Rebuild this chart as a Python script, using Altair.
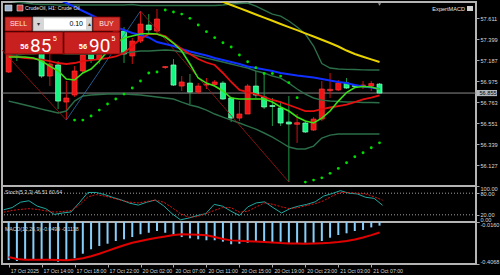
import altair as alt
import pandas as pd

# ------------------------------------------------------------------ data
bar_idx = list(range(46))
time_label_bars = [0, 4, 8, 12, 16, 20, 24, 28, 32, 36, 40, 44]
time_labels = ["17 Oct 2025", "17 Oct 14:00", "17 Oct 18:00", "17 Oct 22:00",
               "20 Oct 02:00", "20 Oct 07:00", "20 Oct 11:00", "20 Oct 15:00",
               "20 Oct 19:00", "20 Oct 23:00", "21 Oct 03:00", "21 Oct 07:00"]
price_ticks = [57.611, 57.399, 57.187, 56.975, 56.763, 56.551, 56.339, 56.127]
bid_price = 56.855

opens = [57.068, 57.331, 57.280, 57.422, 57.280, 57.027, 57.139, 56.764, 56.835, 57.078,
         57.280, 57.199, 57.321, 57.381, 57.482, 57.230, 57.381, 57.543, 57.482, 57.113,
         57.139, 56.926, 56.956, 56.865, 56.936, 56.941, 56.956, 56.805, 56.602, 56.643,
         56.926, 56.815, 56.729, 56.704, 56.562, 56.539, 56.552, 56.481, 56.592, 56.879,
         56.886, 56.956, 56.931, 56.931, 56.926, 56.946]
highs = [57.381, 57.381, 57.482, 57.462, 57.331, 57.260, 57.179, 56.977, 57.128, 57.300,
         57.361, 57.402, 57.462, 57.523, 57.523, 57.412, 57.685, 57.654, 57.705, 57.128,
         57.199, 57.027, 57.048, 56.956, 57.007, 56.987, 56.977, 56.815, 56.774, 56.946,
         57.078, 57.058, 56.805, 56.774, 56.825, 56.643, 56.572, 56.613, 56.977, 57.058,
         56.987, 57.007, 56.946, 56.977, 56.977, 56.956]
lows = [57.058, 57.179, 57.260, 57.280, 57.007, 56.926, 56.693, 56.582, 56.815, 57.058,
        57.159, 57.149, 57.280, 57.341, 57.159, 57.149, 57.361, 57.452, 57.462, 57.098,
        56.926, 56.876, 56.744, 56.845, 56.896, 56.926, 56.785, 56.562, 56.572, 56.643,
        56.805, 56.693, 56.522, 56.522, 55.955, 56.350, 56.451, 56.471, 56.572, 56.805,
        56.876, 56.896, 56.906, 56.896, 56.876, 56.845]
closes = [57.300, 57.260, 57.432, 57.300, 57.027, 57.149, 56.774, 56.805, 57.078, 57.240,
          57.199, 57.331, 57.402, 57.482, 57.250, 57.381, 57.553, 57.493, 57.604, 57.123,
          56.936, 56.967, 56.865, 56.926, 56.946, 56.967, 56.795, 56.602, 56.643, 56.926,
          56.835, 56.714, 56.719, 56.552, 56.542, 56.555, 56.461, 56.592, 56.896, 56.893,
          56.956, 56.906, 56.921, 56.936, 56.951, 56.855]

ma_yellow = [None] * 24 + [57.842, 57.810, 57.778, 57.746, 57.714, 57.682, 57.650, 57.618,
                           57.586, 57.554, 57.522, 57.491, 57.458, 57.427, 57.394, 57.361,
                           57.326, 57.285, 57.250, 57.223, 57.196, 57.169]
ma_blue = [None] * 5 + [57.847, 57.806, 57.766, 57.726, 57.685, 57.645, 57.604, 57.564,
                        57.523, 57.493, 57.463, 57.442, 57.417, 57.371, 57.351, 57.331,
                        57.301, 57.275, 57.255, 57.235, 57.210, 57.189, 57.169, 57.149,
                        57.124, 57.108, 57.093, 57.078, 57.058, 57.045, 57.033, 57.023,
                        57.012, 56.997, 56.982, 56.967, 56.957, 56.937, 56.921, 56.911,
                        56.896]
ma_red = [57.230, 57.220, 57.209, 57.204, 57.194, 57.179, 57.159, 57.149, 57.159, 57.179,
          57.189, 57.199, 57.209, 57.225, 57.260, 57.331, 57.402, 57.452, 57.452, 57.432,
          57.361, 57.300, 57.250, 57.199, 57.164, 57.139, 57.058, 56.967, 56.886, 56.865,
          56.845, 56.815, 56.785, 56.764, 56.734, 56.704, 56.673, 56.673, 56.693, 56.709,
          56.724, 56.739, 56.764, 56.790, 56.810, 56.832]
ma_lime = [57.220, 57.220, 57.220, 57.209, 57.179, 57.128, 57.078, 56.997, 56.987, 57.058,
           57.098, 57.179, 57.280, 57.361, 57.412, 57.432, 57.452, 57.457, 57.452, 57.422,
           57.361, 57.280, 57.149, 57.007, 56.956, 56.926, 56.876, 56.805, 56.795, 56.795,
           56.795, 56.795, 56.764, 56.714, 56.673, 56.613, 56.572, 56.552, 56.602, 56.673,
           56.774, 56.860, 56.911, 56.921, 56.916, 56.893]
bb_upper = [57.786, 57.776, 57.766, 57.756, 57.751, 57.751, 57.746, 57.746, 57.746, 57.746,
            57.746, 57.746, 57.746, 57.746, 57.746, 57.751, 57.740, 57.740, 57.740, 57.740,
            57.740, 57.740, 57.740, 57.740, 57.740, 57.740, 57.746, 57.756, 57.761, 57.766,
            57.735, 57.695, 57.654, 57.634, 57.584, 57.523, 57.452, 57.331, 57.154, 57.108,
            57.098, 57.095, 57.093, 57.090, 57.088, 57.088]
bb_middle = [57.240, 57.240, 57.250, 57.250, 57.260, 57.260, 57.260, 57.250, 57.250, 57.250,
             57.250, 57.250, 57.255, 57.260, 57.260, 57.270, 57.280, 57.280, 57.285, 57.290,
             57.285, 57.270, 57.250, 57.230, 57.209, 57.189, 57.169, 57.149, 57.128, 57.108,
             57.078, 57.058, 57.027, 57.007, 56.956, 56.896, 56.845, 56.805, 56.784, 56.774,
             56.769, 56.764, 56.764, 56.759, 56.759, 56.757]
bb_lower = [56.774, 56.754, 56.734, 56.714, 56.693, 56.673, 56.653, 56.673, 56.774, 56.825,
            56.835, 56.840, 56.845, 56.845, 56.845, 56.840, 56.835, 56.825, 56.815, 56.805,
            56.795, 56.764, 56.734, 56.714, 56.683, 56.643, 56.612, 56.582, 56.552, 56.521,
            56.491, 56.451, 56.410, 56.360, 56.309, 56.289, 56.289, 56.319, 56.400, 56.430,
            56.441, 56.441, 56.441, 56.441, 56.441, 56.441]
sar = [None] * 8 + [56.582, 56.582, 56.623, 56.683, 56.744, 56.795, 56.845, 56.906, 56.977,
                    57.058, 57.068, 57.695, 57.675, 57.654, 57.611, 57.543, 57.476, 57.415,
                    57.364, 57.321, 57.240, 57.172, 57.111, 57.053, 57.053, 57.027, 56.960,
                    56.808, 55.955, 55.975, 55.998, 56.043, 56.093, 56.150, 56.211, 56.251,
                    56.302, 56.352]
zz_bars = [-1, 7, 16, 34]
zz_prices = [57.307, 56.582, 57.685, 55.955]

stoch_main = [34, 40, 55, 59, 44, 37, 21, 25, 28, 54, 82, 82, 76, 68, 61, 52, 47, 55, 61, 45,
              23, 6, 11, 18, 23, 49, 44, 30, 18, 42, 53, 56, 40, 25, 37, 44, 49, 56, 72, 79,
              87, 80, 78, 68.6, 65.7, 46.51]
stoch_signal = [27.5, 32, 35, 37, 35, 31, 27.5, 29, 32, 47, 70, 76, 72, 66, 60, 55, 53, 57, 61,
                55, 40, 23, 13, 15, 23, 32, 40, 40, 27, 30, 42, 53, 49, 42, 37, 40, 46, 51, 59,
                72, 82, 82, 80, 78, 70, 60.64]
stoch_levels = [80, 20]
macd_hist = [-0.370, -0.379, -0.363, -0.363, -0.363, -0.372, -0.385, -0.372, -0.354, -0.311,
             -0.270, -0.239, -0.218, -0.193, -0.177, -0.156, -0.130, -0.116, -0.100, -0.116,
             -0.134, -0.156, -0.168, -0.177, -0.186, -0.186, -0.199, -0.223, -0.218, -0.209,
             -0.202, -0.209, -0.202, -0.199, -0.209, -0.218, -0.209, -0.209, -0.193, -0.162,
             -0.137, -0.121, -0.100, -0.090, -0.066, -0.0499]
macd_signal = [-0.342, -0.360, -0.367, -0.367, -0.367, -0.368, -0.370, -0.372, -0.365, -0.354,
               -0.335, -0.311, -0.285, -0.258, -0.232, -0.209, -0.192, -0.177, -0.162, -0.150,
               -0.138, -0.131, -0.132, -0.135, -0.140, -0.155, -0.175, -0.187, -0.191, -0.194,
               -0.198, -0.202, -0.207, -0.212, -0.215, -0.217, -0.218, -0.216, -0.213, -0.209,
               -0.202, -0.193, -0.178, -0.160, -0.138, -0.1138]

# ------------------------------------------------------------------ tables
df = pd.DataFrame({
    "bar": bar_idx, "open": opens, "high": highs, "low": lows, "close": closes,
    "yellow": ma_yellow, "blue": ma_blue, "red": ma_red, "lime": ma_lime,
    "bbu": bb_upper, "bbm": bb_middle, "bbl": bb_lower, "sar": sar,
    "k": stoch_main, "d": stoch_signal, "hist": macd_hist, "sig": macd_signal,
})
df["dir"] = ["up" if c >= o else "down" for o, c in zip(opens, closes)]
one = pd.DataFrame({"z": [0]})
bid_df = pd.DataFrame({"p": [bid_price], "hi": [bid_price + 0.031], "lo": [bid_price - 0.031],
                       "t": [f"{bid_price:.3f}"]})
lvl_df = pd.DataFrame({"lvl": stoch_levels})

W = 474
FONT = "Liberation Sans, Arial, sans-serif"
NARROW = "Liberation Sans Narrow, Roboto, sans-serif"
LBL = "#D8D8D8"

xs = alt.Scale(domain=[-0.2, 56.1], nice=False, zero=False)
XN = alt.X("bar:Q", scale=xs, axis=None)

price_scale = alt.Scale(domain=[55.915, 57.776], nice=False, zero=False)
main_axis = alt.Axis(orient="right", values=price_ticks, format=".3f", title=None, grid=False,
                     domain=False, tickSize=3, tickColor="#A8A8A8", labelColor=LBL,
                     labelFontSize=5.6, labelFont=FONT, labelPadding=1)


def PY(f):
    return alt.Y(f, type="quantitative", scale=price_scale, axis=main_axis)


base = alt.Chart(df)

wick_up = base.transform_filter(alt.datum.dir == "up").mark_rule(
    color="#D01010", strokeWidth=1, clip=True).encode(x=XN, y=PY("low"), y2="high")
wick_dn = base.transform_filter(alt.datum.dir == "down").mark_rule(
    color="#1E9A48", strokeWidth=1, clip=True).encode(x=XN, y=PY("low"), y2="high")
body_up = base.transform_filter(alt.datum.dir == "up").mark_bar(
    size=5, fill="#F01414", stroke="#FF3A3A", strokeWidth=0.7, clip=True).encode(
    x=XN, y=PY("open"), y2="close")
body_dn = base.transform_filter(alt.datum.dir == "down").mark_bar(
    size=5, fill="#14F582", stroke="#8CFFC2", strokeWidth=0.7, clip=True).encode(
    x=XN, y=PY("open"), y2="close")


def pline(field, color, width, dash=None):
    kw = dict(color=color, strokeWidth=width, clip=True)
    if dash:
        kw["strokeDash"] = dash
    return base.mark_line(**kw).encode(x=XN, y=PY(field))


bid_line = alt.Chart(one).mark_rule(color="#8A8A8A", strokeWidth=1).encode(
    y=alt.Y(datum=bid_price, type="quantitative", scale=price_scale, axis=main_axis))

zz_layers = []
zz_colors = ["#A01818", "#2F6FB0", "#A01818"]
for k in range(len(zz_bars) - 1):
    seg = pd.DataFrame({"bar": zz_bars[k:k + 2], "p": zz_prices[k:k + 2]})
    zz_layers.append(alt.Chart(seg).mark_line(color=zz_colors[k], strokeWidth=0.8, clip=True)
                     .encode(x=XN, y=PY("p")))

sar_pts = base.mark_circle(size=8, color="#00DD00", opacity=1, clip=True).encode(
    x=XN, y=PY("sar"))


def box(x0, x1, y0, y1, fill, stroke=None, sw=0.8):
    kw = dict(fill=fill)
    if stroke:
        kw.update(stroke=stroke, strokeWidth=sw)
    return alt.Chart(one).mark_rect(**kw).encode(
        x=alt.value(x0), x2=alt.value(x1), y=alt.value(y0), y2=alt.value(y1))


def txt(x, y, s, size, color="#FFFFFF", align="center", weight="normal", font=FONT,
        baseline="middle"):
    return alt.Chart(one).mark_text(text=s, fontSize=size, color=color, align=align,
                                    fontWeight=weight, font=font, baseline=baseline).encode(
        x=alt.value(x), y=alt.value(y))


ui = [
    box(3, 30, 15, 29, "#D0302A", "#8A0000"),
    box(31, 90, 15, 29, "#D6D6D6", "#909090"),
    box(42, 84, 16.5, 27.5, "#FFFFFF"),
    box(91, 118, 15, 29, "#D0302A", "#8A0000"),
    box(3, 61, 30, 52, "#C8201E", "#7A0000"),
    box(62, 118, 30, 52, "#C8201E", "#7A0000"),
    txt(16.5, 22, "SELL", 7, "#FFE4E4"),
    txt(104.5, 22, "BUY", 7, "#FFE4E4"),
    txt(36.5, 22, "\u25BE", 6, "#303030"),
    txt(87, 22, "\u25B4", 6, "#303030"),
    txt(81, 22, "0.10", 7, "#000000", align="right"),
    txt(22.5, 45, "56", 7.5, weight="bold"),
    txt(28, 49.5, "85", 19, align="left", font=NARROW, baseline="alphabetic"),
    txt(53, 37, "5", 7),
    txt(81, 45, "56", 7.5, weight="bold"),
    txt(87, 49.5, "90", 19, align="left", font=NARROW, baseline="alphabetic"),
    txt(111.5, 37, "5", 7),
    # header
    box(3, 10, 3, 9, "#9FB4CF", "#E0E0E0", 0.6),
    box(15, 21, 3, 9, "#D84040", "#E0E0E0", 0.6),
    txt(23, 6, "CrudeOil, H1:  Crude Oil", 5.2, "#E6E6E6", align="left"),
    txt(463, 6.5, "ExpertMACD", 5.6, "#E6E6E6", align="right"),
    box(465, 471, 4, 9, "#D0D0D0"),
]

shift_mark = alt.Chart(one).mark_point(shape="triangle-down", filled=True, size=10,
                                       color="#9A9A9A", opacity=1).encode(
    x=alt.X(datum=45, type="quantitative", scale=xs, axis=None), y=alt.value(2.5))

bid_box = alt.Chart(bid_df).mark_rect(fill="#B4B9BE").encode(
    x=alt.value(475), x2=alt.value(495), y=PY("hi"), y2="lo")
bid_txt = alt.Chart(bid_df).mark_text(align="left", fontSize=5.6, font=FONT,
                                      color="#000000").encode(
    x=alt.value(477.5), y=PY("p"), text="t:N")

main = alt.layer(
    bid_line, wick_up, wick_dn, body_up, body_dn,
    pline("bbu", "#2B6E48", 1.4), pline("bbm", "#2B6E48", 1.4), pline("bbl", "#2B6E48", 1.4),
    *zz_layers,
    pline("yellow", "#E8D200", 2), pline("blue", "#1030FF", 2),
    pline("red", "#E41010", 1.8), pline("lime", "#3CE018", 1.6),
    sar_pts, *ui, shift_mark, bid_box, bid_txt,
).properties(width=W, height=184)

# ------------------------------------------------------------------ stochastic
stoch_scale = alt.Scale(domain=[0, 100], nice=False, zero=False)
stoch_axis = alt.Axis(orient="right", values=[100, 80, 20, 0], format=".2f", title=None,
                      grid=False, domain=False, tickSize=3, tickColor="#A8A8A8",
                      labelColor=LBL, labelFontSize=5.6, labelFont=FONT, labelPadding=1,
                      labelFlush=True, labelOverlap=False)


def SY(f):
    return alt.Y(f, type="quantitative", scale=stoch_scale, axis=stoch_axis)


stoch = alt.layer(
    alt.Chart(lvl_df).mark_rule(color="#C8C8C8", strokeWidth=0.8, strokeDash=[1, 2]).encode(
        y=SY("lvl")),
    base.mark_line(color="#20A8A0", strokeWidth=1, clip=True).encode(x=XN, y=SY("k")),
    base.mark_line(color="#E01010", strokeWidth=1, strokeDash=[2, 1.5], clip=True).encode(
        x=XN, y=SY("d")),
    txt(3, 6, "Stoch(5,3,3) 46.51 60.64", 5.2, "#D8D8D8", align="left"),
).properties(width=W, height=36)

# ------------------------------------------------------------------ MACD
macd_scale = alt.Scale(domain=[-0.4068, -0.016], nice=False, zero=False)
macd_axis = alt.Axis(orient="right", values=[-0.016, -0.4068], title=None, grid=False,
                     domain=False, tickSize=3, tickColor="#A8A8A8", labelColor=LBL,
                     labelFontSize=5.6, labelFont=FONT, labelPadding=1, labelFlush=True,
                     labelExpr="(datum.value < 0 ? '-' : '') + format(abs(datum.value), '.4f')")
label_list = "[" + ",".join("'" + t + "'" for t in time_labels) + "]"
bottom_axis = alt.Axis(values=time_label_bars, labelExpr=label_list + "[round(datum.value / 4)]",
                       labelAlign="left", labelBaseline="top", labelFontSize=5.2,
                       labelColor=LBL, labelFont=FONT, tickSize=3, tickColor="#A8A8A8",
                       domain=False, grid=False, title=None, labelPadding=1, labelOffset=1.5,
                       labelFlush=False, labelOverlap=False, labelBound=False)


def MY(f):
    return alt.Y(f, type="quantitative", scale=macd_scale, axis=macd_axis)


XB = alt.X("bar:Q", scale=xs, axis=bottom_axis)

macd = alt.layer(
    base.mark_bar(size=2, color="#87CEFA", clip=True).encode(x=XB, y=MY("hist"),
                                                             y2=alt.datum(0)),
    base.mark_line(color="#E00000", strokeWidth=2, clip=True).encode(x=XB, y=MY("sig")),
    txt(3, 7, "MACD(12,26,9) -0.0499 -0.1138", 5.2, "#D8D8D8", align="left"),
).properties(width=W, height=42)

chart = alt.vconcat(main, stoch, macd, spacing=0, bounds="flush").resolve_scale(
    y="independent").properties(
    background="#000000",
    padding={"left": 0, "top": 1, "right": 0, "bottom": 0},
    autosize=alt.AutoSizeParams(type="pad"),
).configure_view(stroke="#B4B4B4", strokeWidth=2)

chart.save("out.html", embed_options={"renderer": "svg", "actions": False})
